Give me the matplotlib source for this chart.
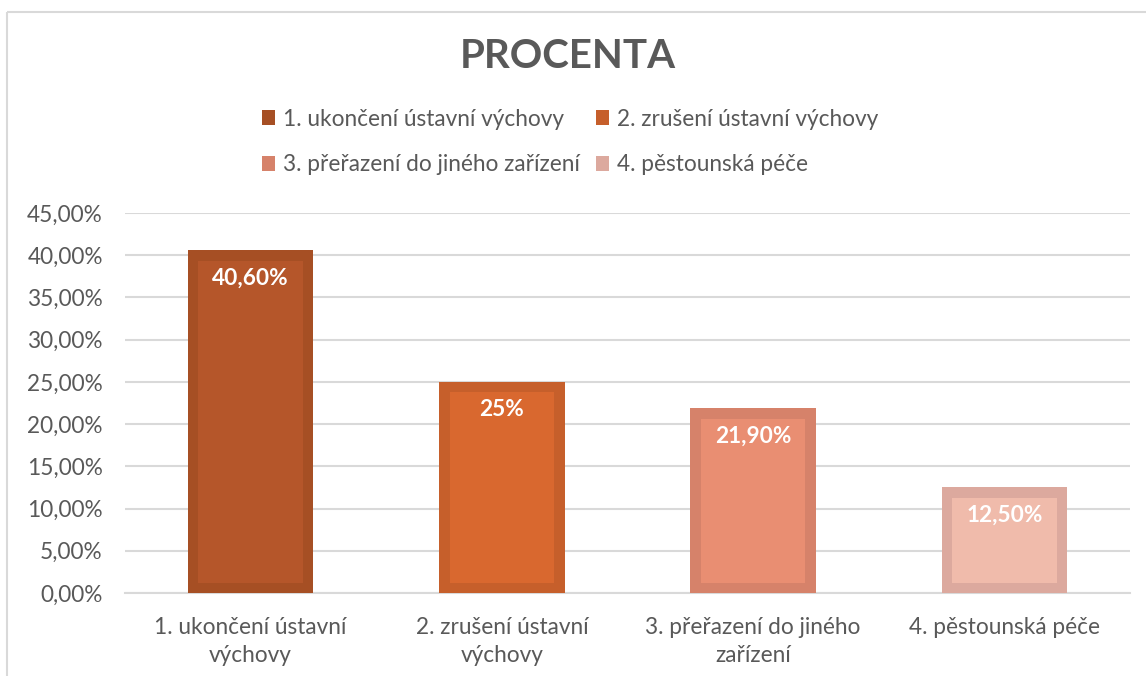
import matplotlib
matplotlib.use("Agg")
import matplotlib.pyplot as plt
from matplotlib.patches import Rectangle, Patch
from matplotlib.ticker import FuncFormatter, MultipleLocator

categories = ["1. ukončení ústavní výchovy", "2. zrušení ústavní výchovy",
              "3. přeřazení do jiného zařízení", "4. pěstounská péče"]
tick_labels = ["1. ukončení ústavní\nvýchovy", "2. zrušení ústavní\nvýchovy",
               "3. přeřazení do jiného\nzařízení", "4. pěstounská péče"]
values = [40.6, 25.0, 21.9, 12.5]
value_labels = ["40,60%", "25%", "21,90%", "12,50%"]
title = "PROCENTA"

fill_colors = ["#B5562A", "#D9682F", "#E98E72", "#F0BBAB"]
edge_colors = ["#A64F24", "#C65F2B", "#D6826A", "#DCA99E"]

FONT = ["Lato", "DejaVu Sans"]
TXT = "#595959"
GRID = "#D9D9D9"
FS = 16.3

W, H = 1146, 676
fig = plt.figure(figsize=(W / 100, H / 100), dpi=100)
fig.patch.set_facecolor("white")

# outer chart border (cropped at right and bottom)
fig.patches.append(Rectangle((7 / W, 1 - 12 / H), 1.2, -1.2, transform=fig.transFigure,
                             fill=False, edgecolor=GRID, linewidth=1.5))

ax_l, ax_r, ax_t, ax_b = 125, 1130, 213, 593
ax = fig.add_axes([ax_l / W, 1 - ax_b / H, (ax_r - ax_l) / W, (ax_b - ax_t) / H])
ax.set_xlim(-0.5, len(values) - 0.5)
ax.set_ylim(0, 45)

px_x = (len(values)) / (ax_r - ax_l)   # data units per px in x
px_y = 45 / (ax_b - ax_t)              # data units per px in y
border = 10.5
bw = 0.5
x = list(range(len(values)))

ax.bar(x, values, width=bw, color=edge_colors, zorder=3, linewidth=0)
inner_h = [v - 2 * border * px_y for v in values]
ax.bar(x, inner_h, width=bw - 2 * border * px_x, bottom=border * px_y,
       color=fill_colors, zorder=4, linewidth=0)

for xi, v, lab in zip(x, values, value_labels):
    ax.annotate(lab, (xi, v), xytext=(0, -28 * 0.72), textcoords="offset points",
                ha="center", va="center", color="white", fontsize=FS,
                fontweight="bold", family=FONT, zorder=5)

ax.yaxis.set_major_locator(MultipleLocator(5))
ax.yaxis.set_major_formatter(FuncFormatter(lambda v, p: f"{v:.2f}".replace(".", ",") + "%"))
ax.grid(axis="y", color=GRID, linewidth=1.5, zorder=0)
ax.set_axisbelow(True)
for s in ["top", "right", "left"]:
    ax.spines[s].set_visible(False)
ax.spines["bottom"].set_color(GRID)
ax.spines["bottom"].set_linewidth(1.5)
ax.spines["bottom"].set_zorder(2)
ax.tick_params(axis="both", length=0, colors=TXT, labelsize=FS)
ax.tick_params(axis="y", pad=16)
ax.tick_params(axis="x", pad=17)
ax.set_xticks(x)
ax.set_xticklabels(tick_labels, family=FONT, linespacing=1.42)
for t in ax.get_yticklabels():
    t.set_family(FONT)

fig.text(568 / W, 1 - 56 / H, title, ha="center", va="center", fontsize=29,
         fontweight="bold", color=TXT, family=FONT)

# legend filled row by row (matplotlib fills column-wise)
order = [0, 2, 1, 3]
handles = [Patch(facecolor=edge_colors[i], edgecolor="none") for i in order]
labels = [categories[i] for i in order]
leg = fig.legend(handles, labels, loc="center", bbox_to_anchor=(570 / W, 1 - 142 / H),
                 ncol=2, frameon=False, prop={"family": FONT, "size": FS},
                 handlelength=0.6, handleheight=0.6, handletextpad=0.35,
                 columnspacing=0.7, labelspacing=1.1)
for t in leg.get_texts():
    t.set_color(TXT)

fig.savefig("out.png", dpi=100)
